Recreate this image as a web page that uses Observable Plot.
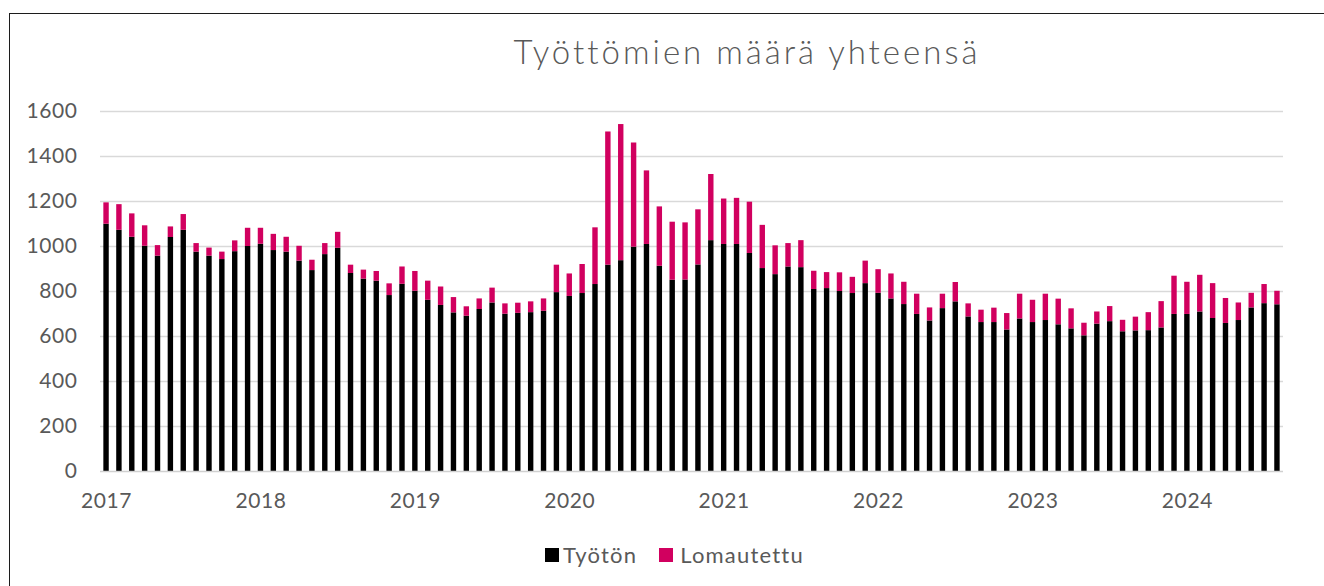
<!DOCTYPE html>
<html>
<head>
<meta charset="utf-8">
<script src="https://cdn.jsdelivr.net/npm/d3@7"></script>
<script src="https://cdn.jsdelivr.net/npm/@observablehq/plot@0.6"></script>
<style>
  html, body { margin: 0; padding: 0; background: #fff; overflow: hidden; }
  #wrap { position: relative; width: 1324px; height: 586px; overflow: hidden; font-family: Lato, "Noto Sans", sans-serif; color: #595959; }
  #frame { position: absolute; left: 9px; top: 13px; width: 1400px; height: 700px; border: 1.6px solid #1c1c1c; box-sizing: border-box; }
  #title { position: absolute; left: 747px; top: 31px; transform: translateX(-50%); white-space: nowrap; font-size: 33px; font-weight: 300; letter-spacing: 3px; color: #595959; }
  #chart { position: absolute; left: 0; top: 95px; }
  #legend { position: absolute; left: 545px; top: 541px; display: flex; align-items: center; font-size: 22px; letter-spacing: 1.2px; color: #595959; white-space: nowrap; }
  .sw { width: 14px; height: 14px; display: inline-block; }
</style>
</head>
<body>
<div id="wrap">
  <div id="frame"></div>
  <div id="title">Työttömien määrä yhteensä</div>
  <div id="chart"></div>
  <div id="legend"></div>
</div>
<script>
// Months: Jan 2017 .. Aug 2024 (92 months)
const yearLabels = ["2017", "2018", "2019", "2020", "2021", "2022", "2023", "2024"];
const seriesNames = ["Työtön", "Lomautettu"];
const seriesColors = ["#000000", "#d1005f"];
const yTicks = [0, 200, 400, 600, 800, 1000, 1200, 1400, 1600];

const tyoton = [
  1099, 1072, 1041, 1001, 957, 1040, 1072, 975, 957, 942, 977, 1000,
  1010, 982, 975, 935, 893, 964, 992, 880, 855, 846, 782, 832,
  801, 761, 738, 705, 690, 720, 749, 699, 703, 706, 712, 795,
  778, 791, 831, 917, 937, 997, 1009, 912, 850, 851, 918, 1026,
  1009, 1009, 969, 902, 875, 909, 906, 809, 813, 800, 791, 835,
  792, 767, 742, 698, 669, 724, 754, 687, 662, 662, 629, 678,
  662, 671, 652, 634, 603, 655, 666, 621, 625, 626, 638, 698,
  698, 709, 680, 658, 671, 727, 746, 741
];
const lomautettu = [
  95, 114, 104, 91, 47, 47, 70, 38, 36, 33, 48, 81,
  71, 72, 66, 66, 46, 49, 71, 37, 40, 43, 52, 77,
  88, 85, 82, 68, 42, 47, 66, 46, 45, 48, 55, 122,
  100, 129, 252, 592, 605, 463, 327, 264, 258, 254, 245, 294,
  202, 205, 228, 192, 128, 104, 120, 81, 71, 83, 72, 100,
  105, 111, 99, 90, 58, 64, 86, 58, 55, 64, 73, 110,
  99, 117, 114, 89, 56, 54, 67, 51, 61, 80, 117, 170,
  143, 163, 155, 111, 78, 65, 85, 60
];

const months = d3.range(tyoton.length);
const data = [
  ...months.map(i => ({i, series: seriesNames[0], value: tyoton[i]})),
  ...months.map(i => ({i, series: seriesNames[1], value: lomautettu[i]}))
];

const plot = Plot.plot({
  width: 1324,
  height: 430,
  marginTop: 16,
  marginBottom: 54,
  marginLeft: 100,
  marginRight: 41,
  style: {fontFamily: "Lato, 'Noto Sans', sans-serif", fontSize: "21px", letterSpacing: "0.6px", color: "#595959", background: "transparent", overflow: "visible"},
  x: {type: "band", domain: months, paddingInner: 0.58, paddingOuter: 0.26, align: 0.5},
  y: {domain: [0, 1600]},
  color: {domain: seriesNames, range: seriesColors},
  marks: [
    Plot.ruleY(yTicks.filter(d => d > 0), {stroke: "#d9d9d9", strokeWidth: 1.6}),
    Plot.barY(data, {x: "i", y: "value", fill: "series", order: null}),
    Plot.ruleY([0], {stroke: "#d0d0d0", strokeWidth: 1.6}),
    Plot.axisY({ticks: yTicks, tickSize: 0, tickPadding: 23, label: null, tickFormat: d => String(d)}),
    Plot.axisX({ticks: months.filter(i => i % 12 === 0), tickSize: 0, tickPadding: 22, label: null, tickFormat: i => yearLabels[i / 12]})
  ]
});
document.getElementById("chart").appendChild(plot);

const legend = document.getElementById("legend");
seriesNames.forEach((name, k) => {
  const sw = document.createElement("span");
  sw.className = "sw";
  sw.style.background = seriesColors[k];
  sw.style.marginRight = k === 0 ? "4px" : "7px";
  legend.appendChild(sw);
  const t = document.createElement("span");
  t.textContent = name;
  t.style.marginRight = k === 0 ? "22px" : "0";
  legend.appendChild(t);
});
</script>
</body>
</html>
